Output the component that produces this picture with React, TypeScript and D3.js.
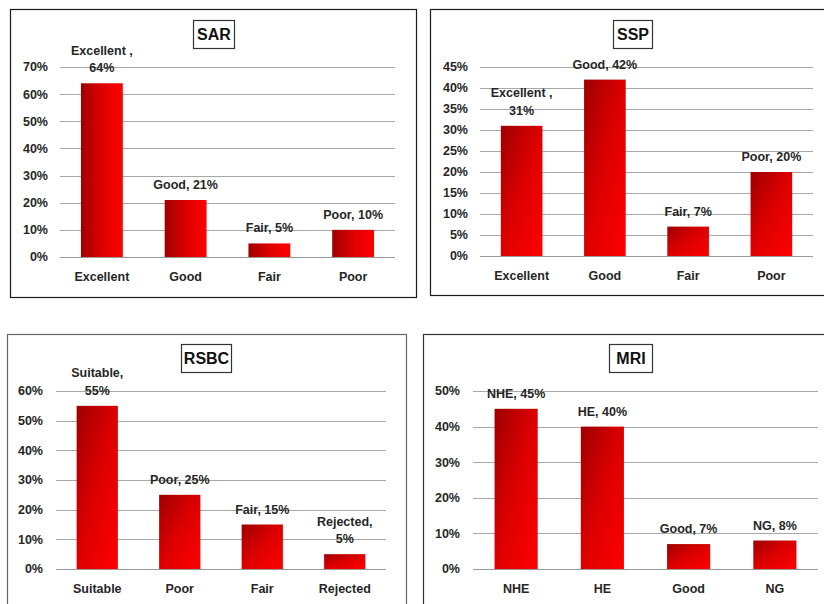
import React from "react";
import * as d3 from "d3";

// ---- data ----
const sarCategories = ["Excellent", "Good", "Fair", "Poor"];
const sarValues = [0.64, 0.21, 0.05, 0.1];
const sarLabelHeads = ["Excellent ,", "Good,", "Fair,", "Poor,"];
const sarWrap = [true, false, false, false];
const sarTicks = [0, 0.1, 0.2, 0.3, 0.4, 0.5, 0.6, 0.7];

const sspCategories = ["Excellent", "Good", "Fair", "Poor"];
const sspValues = [0.31, 0.42, 0.07, 0.2];
const sspLabelHeads = ["Excellent ,", "Good,", "Fair,", "Poor,"];
const sspWrap = [true, false, false, false];
const sspTicks = [0, 0.05, 0.1, 0.15, 0.2, 0.25, 0.3, 0.35, 0.4, 0.45];

const rsbcCategories = ["Suitable", "Poor", "Fair", "Rejected"];
const rsbcValues = [0.55, 0.25, 0.15, 0.05];
const rsbcLabelHeads = ["Suitable,", "Poor,", "Fair,", "Rejected,"];
const rsbcWrap = [true, false, false, true];
const rsbcTicks = [0, 0.1, 0.2, 0.3, 0.4, 0.5, 0.6];

const mriCategories = ["NHE", "HE", "Good", "NG"];
const mriValues = [0.45, 0.4, 0.07, 0.08];
const mriLabelHeads = ["NHE,", "HE,", "Good,", "NG,"];
const mriWrap = [false, false, false, false];
const mriTicks = [0, 0.1, 0.2, 0.3, 0.4, 0.5];

type Panel = {
  id: string;
  title: string;
  categories: string[];
  values: number[];
  heads: string[];
  wrap: boolean[];
  ticks: number[];
  frame: [number, number, number, number];
  frameColor: string;
  titleBox: [number, number, number, number];
  plot: [number, number, number, number]; // x0, x1, yTop, yBottom
  tickRight: number;
  catY: number;
  diagonal: boolean;
};

const panels: Panel[] = [
  {
    id: "sar", title: "SAR", categories: sarCategories, values: sarValues,
    heads: sarLabelHeads, wrap: sarWrap, ticks: sarTicks,
    frame: [10, 9, 406, 288], frameColor: "#1a1a1a",
    titleBox: [193, 20, 41, 28],
    plot: [60, 395, 67, 257], tickRight: 48, catY: 280.5, diagonal: false,
  },
  {
    id: "ssp", title: "SSP", categories: sspCategories, values: sspValues,
    heads: sspLabelHeads, wrap: sspWrap, ticks: sspTicks,
    frame: [430, 9, 410, 286], frameColor: "#1a1a1a",
    titleBox: [613, 20, 39, 28],
    plot: [480, 813, 67, 256], tickRight: 468, catY: 279.5, diagonal: true,
  },
  {
    id: "rsbc", title: "RSBC", categories: rsbcCategories, values: rsbcValues,
    heads: rsbcLabelHeads, wrap: rsbcWrap, ticks: rsbcTicks,
    frame: [7, 334, 399, 300], frameColor: "#666",
    titleBox: [181, 344, 50, 28],
    plot: [56, 386, 391, 569], tickRight: 43, catY: 592.5, diagonal: true,
  },
  {
    id: "mri", title: "MRI", categories: mriCategories, values: mriValues,
    heads: mriLabelHeads, wrap: mriWrap, ticks: mriTicks,
    frame: [423, 334, 420, 300], frameColor: "#333",
    titleBox: [609, 344, 43, 28],
    plot: [473, 818, 391, 569], tickRight: 460, catY: 592.5, diagonal: true,
  },
];

const FONT = "'Liberation Sans', Arial, sans-serif";
const TEXT = "#262626";
const pct = d3.format(".0%");

function BarPanel({ p }: { p: Panel }) {
  const [x0, x1, yTop, yBottom] = p.plot;
  const x = d3.scaleBand<string>().domain(p.categories).range([x0, x1])
    .paddingInner(0.5).paddingOuter(0.25);
  const y = d3.scaleLinear().domain([0, p.ticks[p.ticks.length - 1]]).range([yBottom, yTop]);
  const gid = `grad-${p.id}`;
  const [fx, fy, fw, fh] = p.frame;
  const [tx, ty, tw, th] = p.titleBox;
  return (
    <g>
      <defs>
        <linearGradient id={gid} x1="0" y1="0" x2="1" y2={p.diagonal ? 1 : 0}>
          <stop offset="0" stopColor="#9e0000" />
          <stop offset="0.5" stopColor="#dd0000" />
          <stop offset="1" stopColor="#ff0000" />
        </linearGradient>
      </defs>
      <rect x={fx + 0.5} y={fy + 0.5} width={fw} height={fh} fill="#fff" stroke={p.frameColor} strokeWidth={1.2} />
      {p.ticks.map((t) => (
        <g key={t}>
          <line x1={x0} x2={x1} y1={Math.round(y(t)) + 0.5} y2={Math.round(y(t)) + 0.5}
            stroke={t === 0 ? "#999" : "#a8a8a8"} strokeWidth={1.2} />
          <text x={p.tickRight} y={y(t)} dy="0.35em" textAnchor="end"
            fontFamily={FONT} fontWeight="bold" fontSize={12.5} fill={TEXT}>
            {pct(t)}
          </text>
        </g>
      ))}
      {p.categories.map((c, i) => {
        const v = p.values[i];
        const bx = x(c)!;
        const bw = x.bandwidth();
        const top = y(v);
        const cx = bx + bw / 2;
        const lines = p.wrap[i] ? [p.heads[i], pct(v)] : [`${p.heads[i]} ${pct(v)}`];
        const base = top - 11;
        return (
          <g key={c}>
            <rect x={bx} y={top} width={bw} height={y(0) - top} fill={`url(#${gid})`} />
            {lines.map((ln, k) => (
              <text key={k} x={cx} y={base - (lines.length - 1 - k) * 17.5} textAnchor="middle"
                fontFamily={FONT} fontWeight="bold" fontSize={12.5} fill={TEXT}>
                {ln}
              </text>
            ))}
            <text x={cx} y={p.catY} textAnchor="middle"
              fontFamily={FONT} fontWeight="bold" fontSize={12.5} fill={TEXT}>
              {c}
            </text>
          </g>
        );
      })}
      <rect x={tx + 0.5} y={ty + 0.5} width={tw} height={th} fill="#fff" stroke="#333" strokeWidth={1.2} />
      <text x={tx + tw / 2 + 0.5} y={ty + th / 2 + 0.5} dy="0.36em" textAnchor="middle"
        fontFamily={FONT} fontWeight="bold" fontSize={16} fill="#111">
        {p.title}
      </text>
    </g>
  );
}

export default function App() {
  return (
    <svg width={824} height={604} style={{ position: "absolute", left: 0, top: 0, background: "#fff" }}>
      <rect width={824} height={604} fill="#fff" />
      {panels.map((p) => (
        <BarPanel key={p.id} p={p} />
      ))}
    </svg>
  );
}
